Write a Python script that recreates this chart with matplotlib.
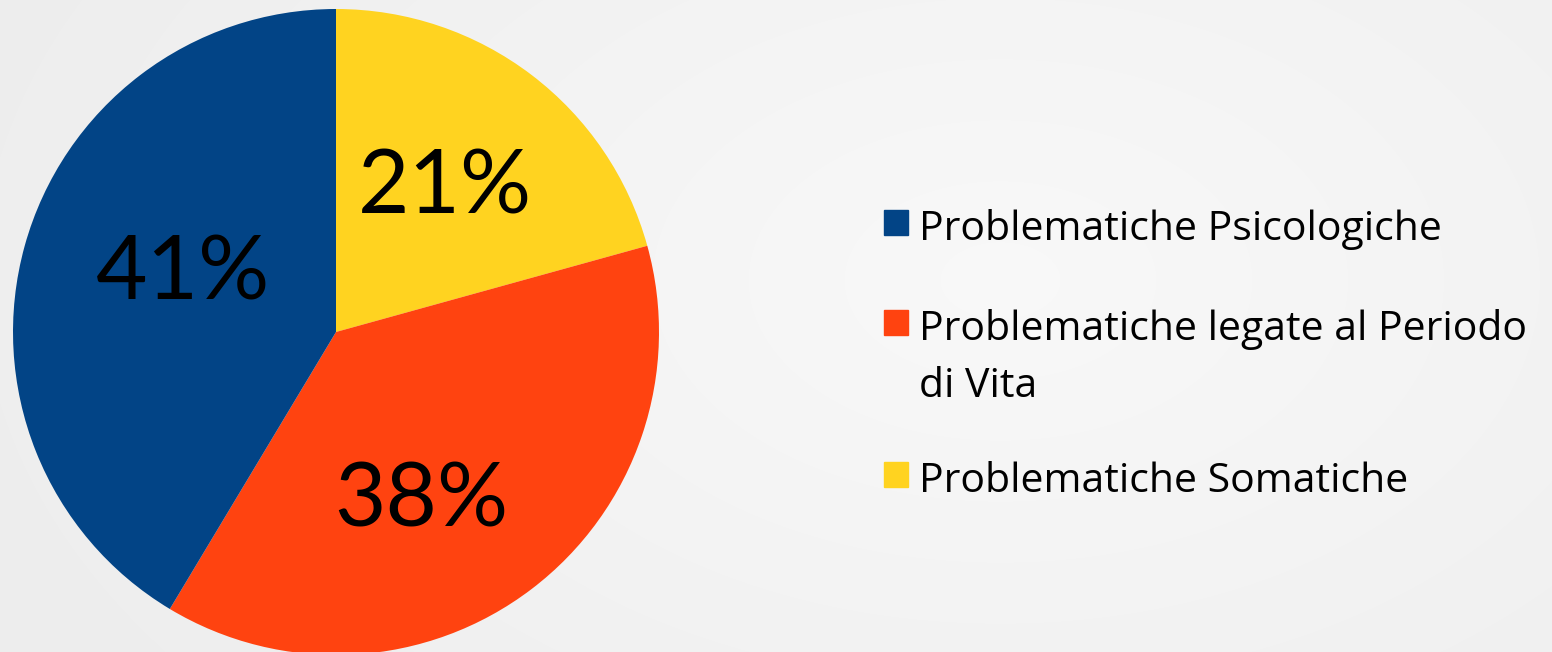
import matplotlib.pyplot as plt
import matplotlib.patches as mpatches
import numpy as np

labels = ["Problematiche Psicologiche", "Problematiche legate al Periodo\ndi Vita", "Problematiche Somatiche"]
values = [41.4, 37.9, 20.7]
colors = ["#024486", "#FF4310", "#FFD320"]
# where the percent labels sit (axes data units, pie radius = 1)
label_pos = [(-0.474, 0.177), (0.263, -0.526), (0.337, 0.444)]

plt.rcParams['font.family'] = ['Lato', 'DejaVu Sans']

fig = plt.figure(figsize=(15.52, 6.52), dpi=100)

# soft radial background
bg = fig.add_axes([0, 0, 1, 1])
yy, xx = np.mgrid[0:652, 0:1552]
d = np.sqrt(((xx - 1000) / 1100.0) ** 2 + ((yy - 280) / 700.0) ** 2)
shade = 0.975 - 0.045 * np.clip(d, 0, 1)
bg.imshow(np.dstack([shade] * 3), extent=[0, 1, 0, 1], aspect='auto', origin='upper')
bg.axis('off')

# pie: centre (336, 332) px, radius 323 px
r = 323
ax = fig.add_axes([(336 - r) / 1552, (652 - 332 - r) / 652, 2 * r / 1552, 2 * r / 652])
order = [2, 1, 0]
wedges, _, pcts = ax.pie([values[i] for i in order], colors=[colors[i] for i in order],
                         startangle=90, counterclock=False, radius=1,
                         autopct='%.0f%%', wedgeprops=dict(linewidth=0),
                         textprops=dict(fontsize=64, color='black'))
for t, i in zip(pcts, order):
    t.set_position(label_pos[i])
    t.set_va('center')
ax.set_xlim(-1, 1)
ax.set_ylim(-1, 1)
ax.set_aspect('equal')
ax.axis('off')

# legend drawn by hand so the square lines up with the first text line
base = 240
for lab, c in zip(labels, colors):
    fig.patches.append(mpatches.Rectangle((884 / 1552, 1 - (base - 5) / 652), 24 / 1552, 25 / 652,
                                          transform=fig.transFigure, color=c))
    for k, line in enumerate(lab.split("\n")):
        fig.text(919 / 1552, 1 - (base + 57 * k) / 652, line, fontsize=29.5, color='black',
                 va='baseline', ha='left', family=['Open Sans', 'DejaVu Sans'])
    base += 100 + 52 * lab.count("\n")

fig.savefig("out.png", dpi=100)
